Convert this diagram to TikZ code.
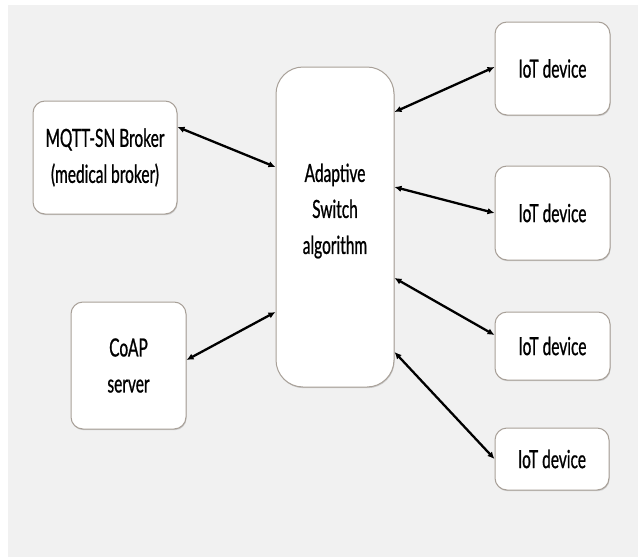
\documentclass[tikz,border=0pt]{standalone}
\usepackage{fontspec}
\newfontfamily\boxfont{Lato}[FakeStretch=0.62,FakeBold=0.8]
\usetikzlibrary{arrows.meta,shadows}
\definecolor{bggray}{HTML}{F1F1F1}
\definecolor{edgegray}{HTML}{A8A098}
\begin{document}
\begin{tikzpicture}[x=1pt,y=-1pt,
  box/.style={draw=edgegray, line width=1pt, fill=white, rounded corners=12pt,
    inner sep=0pt, align=center,
    font=\boxfont\fontsize{25pt}{36pt}\selectfont,
    drop shadow={shadow xshift=0.6pt, shadow yshift=-1.2pt, fill=black!35, opacity=0.5}},
  link/.style={{Latex[length=7pt,width=6.5pt]}-{Latex[length=7pt,width=6.5pt]}, line width=2.3pt, black}]
\useasboundingbox (0,0) rectangle (638,557);
\fill[white] (0,0) rectangle (638,557);
\fill[bggray] (8,5) rectangle (638,557);

\node[box, minimum width=144pt, minimum height=113pt] (mq) at (105,157.5) {MQTT-SN Broker\\(medical broker)};
\node[box, rounded corners=27pt, minimum width=118pt, minimum height=320pt,
  label={[font=\boxfont\fontsize{25pt}{36pt}\selectfont, align=center, yshift=16pt]center:Adaptive\\Switch\\algorithm}] (sw) at (335,227) {};
\node[box, minimum width=115pt, minimum height=127pt] (coap) at (128.5,365.5) {CoAP\\server};
\node[box, minimum width=115pt, minimum height=93pt] (iot1) at (552.5,68.5) {IoT device};
\node[box, minimum width=115pt, minimum height=94pt] (iot2) at (552.5,213) {IoT device};
\node[box, minimum width=115pt, minimum height=68pt] (iot3) at (552.5,346) {IoT device};
\node[box, minimum width=114pt, minimum height=62pt] (iot4) at (552,459) {IoT device};

\draw[link] ([yshift=30.5pt]mq.east) -- ([yshift=60pt]sw.west);
\draw[link] ([yshift=5.5pt]coap.east) -- ([yshift=-85pt]sw.west);
\draw[link] ([yshift=115pt]sw.east) -- ([yshift=1.5pt]iot1.west);
\draw[link] ([yshift=40pt]sw.east) -- (iot2.west);
\draw[link] ([yshift=-51pt]sw.east) -- ([yshift=11pt]iot3.west);
\draw[link] ([yshift=-125pt]sw.east) -- (iot4.west);
\end{tikzpicture}
\end{document}
